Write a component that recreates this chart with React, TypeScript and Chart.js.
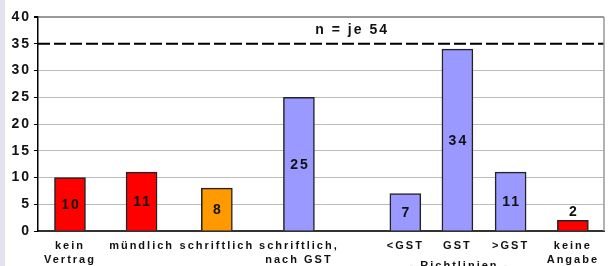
import { useEffect, useRef } from 'react';
import { Chart, registerables } from 'chart.js';

Chart.register(...registerables);

// ---- data ----
const categories: (string | string[])[] = [
  ['kein', 'Vertrag'],
  'mündlich',
  'schriftlich',
  ['schriftlich,', 'nach GST'],
  '<GST',
  'GST',
  '>GST',
  ['keine', 'Angabe'],
];
// category slot positions on a 0..10 category scale (the original groups are unevenly spaced)
const slotPositions = [0.565, 1.83, 3.16, 4.61, 6.49, 7.41, 8.35, 9.45];
const counts = [10, 11, 8, 25, 7, 34, 11, 2];
const barColors = ['#ff0000', '#ff0000', '#ff9900', '#9999ff', '#9999ff', '#9999ff', '#9999ff', '#ff0000'];
const yMin = 0;
const yMax = 40;
const yStep = 5;
const referenceValue = 35;
const titleText = 'n = je 54';
const titleSlot = 5.55;
const groupLabel = '- Richtlinien -';
const groupLabelSlot = 5; // index of GST category

const FONT = '"Liberation Sans", Arial, sans-serif';

const decorPlugin = {
  id: 'decor',
  beforeDraw(chart: any) {
    chart.ctx.letterSpacing = '2px';
  },
  beforeDatasetsDraw(chart: any) {
    const { ctx, chartArea, scales } = chart;
    const y = scales.y.getPixelForValue(referenceValue);
    ctx.save();
    ctx.strokeStyle = '#000';
    ctx.lineWidth = 2;
    ctx.setLineDash([12, 4]);
    ctx.beginPath();
    ctx.moveTo(chartArea.left, y);
    ctx.lineTo(chartArea.right, y);
    ctx.stroke();
    ctx.setLineDash([]);
    ctx.strokeStyle = '#999';
    ctx.lineWidth = 1.5;
    ctx.beginPath();
    ctx.moveTo(chartArea.right, chartArea.top);
    ctx.lineTo(chartArea.right, chartArea.bottom);
    ctx.stroke();
    ctx.restore();
  },
  afterDatasetsDraw(chart: any) {
    const { ctx, chartArea, scales } = chart;
    const meta = chart.getDatasetMeta(0);
    ctx.save();
    (ctx as any).letterSpacing = '2px';
    ctx.fillStyle = '#111';
    ctx.font = `bold 14px ${FONT}`;
    ctx.textAlign = 'center';
    ctx.textBaseline = 'middle';
    meta.data.forEach((el: any, i: number) => {
      const h = el.base - el.y;
      const y = h < 22 ? el.y - 8 : (el.y + el.base) / 2 + 1;
      ctx.fillText(String(counts[i]), el.x + 1, y);
    });
    // title
    ctx.font = `bold 14px ${FONT}`;
    ctx.fillText(titleText, scales.x.getPixelForValue(titleSlot), scales.y.getPixelForValue(37.5));
    // group label
    ctx.font = `bold 11px ${FONT}`;
    ctx.fillText(groupLabel, scales.x.getPixelForValue(slotPositions[groupLabelSlot]) + 2, chartArea.bottom + 34.5);
    ctx.restore();
  },
};

export default function App() {
  const ref = useRef<HTMLCanvasElement>(null);
  useEffect(() => {
    document.body.style.margin = '0';
    const canvas = ref.current!;
    const chart = new Chart(canvas, {
      type: 'bar',
      data: {
        datasets: [
          {
            data: counts.map((v, i) => ({ x: slotPositions[i], y: v })) as any,
            backgroundColor: barColors,
            borderColor: '#222',
            borderWidth: 1.5,
            barThickness: 31,
          },
        ],
      },
      plugins: [decorPlugin],
      options: {
        animation: false,
        responsive: false,
        layout: { padding: { top: 17, right: 5, left: 0, bottom: 0 } },
        plugins: { legend: { display: false }, tooltip: { enabled: false }, title: { display: false } },
        scales: {
          x: {
            type: 'linear',
            offset: false,
            min: 0,
            max: 10,
            afterBuildTicks: (scale: any) => {
              scale.ticks = slotPositions.map((v) => ({ value: v }));
            },
            afterFit: (scale: any) => {
              scale.height = 35;
            },
            grid: { display: false },
            border: { display: true, color: '#333', width: 2 },
            ticks: {
              autoSkip: false,
              maxRotation: 0,
              minRotation: 0,
              padding: -1,
              color: '#111',
              font: { family: FONT, size: 11, weight: 'bold', lineHeight: 1.36 },
              callback: (_v: any, i: number) => categories[i] as any,
            },
          },
          y: {
            min: yMin,
            max: yMax,
            afterFit: (scale: any) => {
              scale.width = 33;
            },
            grid: {
              color: (c: any) =>
                c.tick && c.tick.value === yMax
                  ? '#999'
                  : c.tick && (c.tick.value === referenceValue || c.tick.value === yMin)
                  ? 'rgba(0,0,0,0)'
                  : '#bbb',
              lineWidth: (c: any) => (c.tick && c.tick.value === yMax ? 2 : 1),
              tickColor: '#000',
              tickLength: 4,
            },
            border: { display: true, color: '#000', width: 1.5 },
            ticks: {
              stepSize: yStep,
              padding: 3,
              color: '#111',
              font: { family: FONT, size: 14, weight: 'bold' },
            },
          },
        },
      },
    } as any);
    return () => chart.destroy();
  }, []);
  return (
    <div
      style={{
        width: 609,
        height: 266,
        boxSizing: 'border-box',
        borderLeft: '5px solid #e4e0f0',
        overflow: 'hidden',
        background: '#fff',
      }}
    >
      <canvas ref={ref} width={604} height={266} style={{ display: 'block', width: 604, height: 266 }} />
    </div>
  );
}
